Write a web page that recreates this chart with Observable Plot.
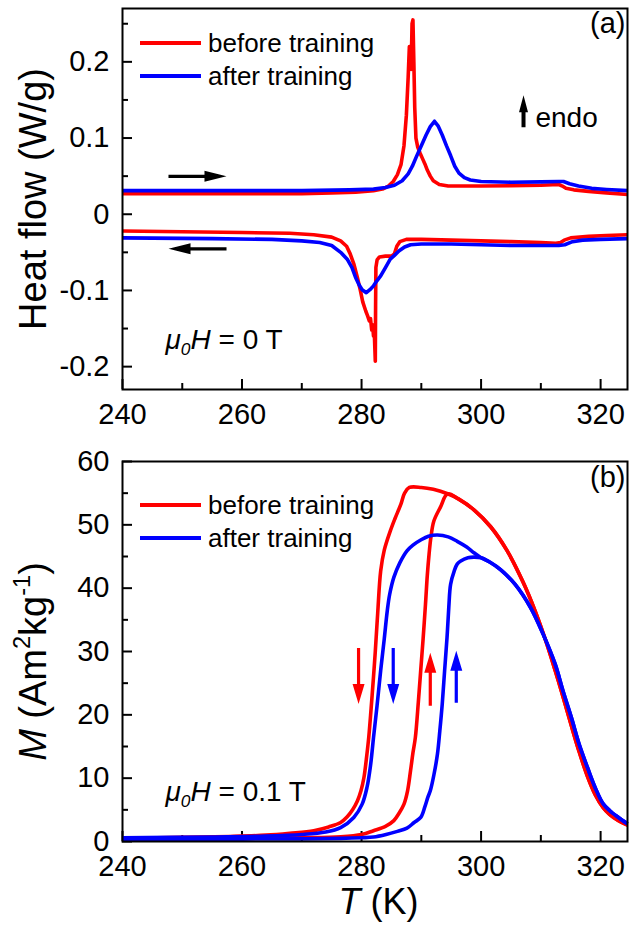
<!DOCTYPE html>
<html><head><meta charset="utf-8">
<script src="https://cdn.jsdelivr.net/npm/d3@7"></script>
<script src="https://cdn.jsdelivr.net/npm/@observablehq/plot@0.6"></script>
<style>
body{margin:0;background:#fff;}
#chart{width:630px;height:925px;position:relative;overflow:hidden;}
#chart svg{display:block;}
</style></head><body><div id="chart"></div>
<script>
// ---------- data ----------
const RED = "#ff0000", BLUE = "#0000ff";
const FONT = "'Liberation Sans', Arial, Helvetica, sans-serif";
const xDomain = [240, 324.5];
const xMajor = [240, 260, 280, 300, 320];
const xMinor = [250, 270, 290, 310];

// Panel (a): DSC heat flow [T (K), W/g]
const dscDomain = [-0.23, 0.27];
const dscMajor = [-0.2, -0.1, 0, 0.1, 0.2];
const dscMinor = [-0.15, -0.05, 0.05, 0.15, 0.25];
const dscRedHeat = [[240,0.027],[250,0.027],[260,0.027],[270,0.027],[275,0.028],[279,0.029],[282,0.031],[283.5,0.033],[284.5,0.037],[285.3,0.043],[286,0.052],[286.6,0.065],[287.1,0.09],[287.5,0.13],[287.8,0.18],[288.0,0.22],[288.15,0.215],[288.3,0.19],[288.45,0.25],[288.6,0.255],[288.75,0.2],[288.9,0.14],[289.1,0.1],[289.4,0.088],[289.8,0.08],[290.2,0.073],[290.6,0.066],[291.0,0.058],[291.5,0.05],[292,0.044],[293,0.039],[294.5,0.037],[300,0.037],[305,0.0375],[310,0.038],[313,0.039],[313.6,0.037],[314.2,0.034],[315.5,0.032],[318,0.03],[321,0.028],[324.5,0.026]];
const dscBlueHeat = [[240,0.031],[260,0.031],[270,0.031],[278,0.032],[282,0.033],[284,0.035],[285.5,0.038],[286.8,0.044],[287.8,0.053],[288.5,0.063],[289.2,0.076],[290,0.09],[290.8,0.104],[291.5,0.115],[292.2,0.122],[292.8,0.116],[293.5,0.104],[294.2,0.09],[294.9,0.077],[295.6,0.063],[296.3,0.054],[297.2,0.048],[298.2,0.045],[300,0.043],[305,0.042],[310,0.0425],[313,0.043],[313.8,0.043],[314.8,0.04],[316.3,0.037],[318.5,0.034],[321,0.0325],[324.5,0.031]];
const dscRedCool = [[240,-0.022],[250,-0.023],[260,-0.024],[268,-0.025],[272,-0.027],[275,-0.03],[276.5,-0.035],[277.5,-0.042],[278.1,-0.052],[278.7,-0.065],[279.3,-0.083],[279.8,-0.1],[280.2,-0.115],[280.7,-0.127],[281.0,-0.133],[281.3,-0.14],[281.5,-0.137],[281.7,-0.152],[281.85,-0.145],[282.0,-0.16],[282.1,-0.148],[282.3,-0.193],[282.35,-0.12],[282.4,-0.07],[282.6,-0.06],[283,-0.056],[284,-0.055],[285,-0.055],[285.5,-0.052],[285.9,-0.042],[286.4,-0.036],[287.5,-0.033],[290,-0.033],[295,-0.034],[300,-0.035],[305,-0.036],[310,-0.037],[312.5,-0.038],[313.3,-0.037],[313.9,-0.034],[315,-0.031],[318,-0.029],[321,-0.028],[324.5,-0.027]];
const dscBlueCool = [[240,-0.031],[255,-0.032],[265,-0.033],[270,-0.035],[273,-0.037],[275,-0.041],[276.5,-0.05],[277.6,-0.059],[278.4,-0.07],[279.0,-0.083],[279.6,-0.093],[280.1,-0.099],[280.8,-0.103],[281.4,-0.099],[282.0,-0.094],[282.6,-0.087],[283.2,-0.081],[284,-0.07],[284.8,-0.059],[285.5,-0.054],[286.3,-0.048],[287.2,-0.043],[288.2,-0.04],[290,-0.039],[295,-0.039],[300,-0.04],[305,-0.041],[310,-0.041],[313,-0.041],[314,-0.04],[315.3,-0.036],[317,-0.034],[320,-0.033],[324.5,-0.032]];

// Panel (b): magnetization [T (K), M (Am2/kg)]
const magDomain = [0, 60];
const magMajor = [0, 10, 20, 30, 40, 50, 60];
const magMinor = [5, 15, 25, 35, 45, 55];
const magRedTop = [[324.5,2.6],[323,3.3],[321.5,4.3],[320.4,5.4],[319.1,7.4],[317.8,10.3],[316.4,14.2],[315.1,18.3],[313.7,22.9],[312.4,27.0],[311,31.2],[309,36.5],[307,41.0],[304.3,46.0],[301.6,49.7],[298.9,52.3],[296.2,54.1],[294.4,54.9],[292,55.6],[290,55.9],[288,55.9]];
const magRedCool = [[287.2,55.0],[286.6,53.3],[285.6,51.0],[284.8,49.0],[283.8,46.0],[283.2,42.7],[282.7,36],[282.3,30],[282.0,26],[281.6,21],[281.2,16.4],[280.8,13],[280.4,10.1],[279.9,8],[279.3,6.4],[278.5,5.0],[277.6,3.9],[276.5,3.0],[274.5,2.3],[272,1.7],[268,1.3],[264,1.0],[258,0.8],[250,0.65],[240,0.55]];
const magRedHeat = [[240,0.45],[260,0.5],[270,0.6],[276.5,0.75],[280,1.1],[282,1.7],[284,2.4],[285.4,3.3],[286.3,4.5],[287.1,5.9],[287.7,8],[288.2,11.2],[288.6,14],[289.0,16.4],[289.5,22],[289.9,27.0],[290.3,32],[290.7,37.5],[291.0,42],[291.3,45.4],[291.6,48],[292.1,50.6],[293.2,52.8],[294.4,54.9]];
const magBlueTop = [[324.5,2.8],[323,3.8],[321.5,4.9],[320.4,6.0],[319.1,8.5],[317.8,11.7],[316.4,15.4],[315.1,19.6],[313.7,23.8],[312.4,28.0],[310.4,32.7],[308.3,36.9],[305.7,40.6],[303.3,42.9],[301.5,44.1],[300,44.8]];
const magBlueCool = [[298.8,45.6],[297.6,46.5],[296.0,47.4],[294.5,48.1],[292.7,48.4],[291.2,48.2],[289.9,47.6],[288.6,46.8],[287.6,45.9],[286.4,44.0],[285.4,41.7],[284.7,39],[284.3,36.4],[283.8,32],[283.2,27.0],[282.6,21.5],[282.0,16.4],[281.5,12],[280.9,8.5],[280.1,5.9],[278.7,3.8],[276.5,2.2],[274,1.5],[270,1.1],[264,0.85],[255,0.7],[240,0.6]];
const magBlueHeat = [[240,0.35],[260,0.38],[270,0.42],[276.5,0.5],[280,0.6],[282,0.7],[284.1,1.1],[286,1.6],[287.6,2.1],[288.8,3.0],[289.9,3.8],[290.6,5.5],[291.1,7],[291.5,8.0],[292.1,10.5],[292.7,13.8],[293.1,17.5],[293.5,21.7],[293.9,27],[294.3,32.2],[294.6,37],[294.9,40.6],[295.5,42.7],[296.0,43.8],[296.6,44.3],[297.8,44.8],[298.8,44.9],[300,44.8]];

// annotations (tip position in data units)
const dscArrows = [
  {T: 257.4, v: 0.0497, rot: 90, len: 58, head: 22, half: 5.5, shaft: 1.6, color: "black"},
  {T: 247.7, v: -0.0454, rot: -90, len: 58, head: 22, half: 5.5, shaft: 1.6, color: "black"},
  {T: 307.1, v: 0.156, rot: 0, len: 32, head: 17, half: 4.5, shaft: 2.0, color: "black"}
];
const magArrows = [
  {T: 279.5, v: 21.7, rot: 180, len: 56, head: 20, half: 6, shaft: 1.6, color: RED},
  {T: 285.3, v: 21.7, rot: 180, len: 56, head: 20, half: 6, shaft: 1.6, color: BLUE},
  {T: 291.5, v: 29.8, rot: 0, len: 53, head: 20, half: 6, shaft: 1.6, color: RED},
  {T: 295.85, v: 30.1, rot: 0, len: 52, head: 20, half: 6, shaft: 1.6, color: BLUE}
];
const legendLabels = ["before training", "after training"];
const legendColors = [RED, BLUE];

// ---------- helpers ----------
function arrowSymbol(len, head, half, shaft) {
  return {draw(ctx) {
    ctx.moveTo(0, 0);
    ctx.lineTo(half, head);
    ctx.lineTo(shaft, head);
    ctx.lineTo(shaft, len);
    ctx.lineTo(-shaft, len);
    ctx.lineTo(-shaft, head);
    ctx.lineTo(-half, head);
    ctx.closePath();
  }};
}
function arrowMarks(list) {
  return list.map(a => Plot.dot([a], {x: "T", y: "v", symbol: arrowSymbol(a.len, a.head, a.half, a.shaft), rotate: a.rot, fill: a.color, stroke: "none", r: 5}));
}
function axisMarks(yMajor, yMinor, yFmt) {
  return [
    Plot.axisX(xMajor, {tickSize: -10, tickPadding: 24, strokeWidth: 2, label: null, tickFormat: d => String(d)}),
    Plot.axisX(xMinor, {tickSize: -6, tickPadding: 0, strokeWidth: 2, label: null, tickFormat: () => ""}),
    Plot.axisY(yMajor, {tickSize: -10, tickPadding: 23, strokeWidth: 2, label: null, tickFormat: yFmt}),
    Plot.axisY(yMinor, {tickSize: -6, tickPadding: 0, strokeWidth: 2, label: null, tickFormat: () => ""})
  ];
}
function lineMark(data, color, curve = "linear") {
  return Plot.line(data, {x: d => d[0], y: d => d[1], stroke: color, strokeWidth: 3.6, strokeLinejoin: "round", strokeLinecap: "butt", curve});
}
function enrich(svg, plain, parts) {
  d3.select(svg).selectAll("text").filter(function() { return this.textContent === plain; }).each(function() {
    const el = d3.select(this);
    const fs = parseFloat(getComputedStyle(this).fontSize);
    el.text(null);
    let shift = 0;
    for (const p of parts) {
      const ts = el.append("tspan").text(p.t);
      const target = p.sup ? -0.42 * fs : p.sub ? 0.22 * fs : 0;
      if (target !== shift) { ts.attr("dy", target - shift); shift = target; }
      if (p.i) ts.attr("font-style", "italic");
      if (p.sup || p.sub) ts.attr("font-size", (0.62 * fs) + "px");
    }
  });
}
function addLegend(svg, y0, dy) {
  const g = d3.select(svg).append("g").attr("font-family", FONT).attr("font-size", "26px").attr("text-anchor", "start");
  legendLabels.forEach((lab, i) => {
    const y = y0 + i * dy;
    g.append("line").attr("x1", 140).attr("x2", 201).attr("y1", y).attr("y2", y)
      .attr("stroke", legendColors[i]).attr("stroke-width", 3.8);
    g.append("text").attr("x", 208).attr("y", y + 9).attr("fill", "black").text(lab);
  });
}
const baseStyle = {fontFamily: FONT, fontSize: "29px", color: "black", background: "white", overflow: "visible"};

// ---------- panel (a) ----------
const svgA = Plot.plot({
  width: 630, height: 441, marginLeft: 122, marginRight: 3, marginTop: 8, marginBottom: 52,
  style: baseStyle,
  x: {domain: xDomain},
  y: {domain: dscDomain},
  marks: [
    ...axisMarks(dscMajor, dscMinor, d => d === 0 ? "0" : d.toFixed(1)),
    lineMark(dscRedHeat, RED),
    lineMark(dscRedCool, RED),
    lineMark(dscBlueHeat, BLUE),
    lineMark(dscBlueCool, BLUE),
    ...arrowMarks(dscArrows),
    Plot.text(["endo"], {x: 309.1, y: 0.1257, textAnchor: "start", lineAnchor: "middle", fontSize: 28}),
    Plot.text(["mu0H = 0 T"], {x: 247.2, y: -0.165, textAnchor: "start", lineAnchor: "middle", fontSize: 28}),
    Plot.text(["(a)"], {frameAnchor: "top-right", dx: -2, dy: 15.5, textAnchor: "end", lineAnchor: "middle", fontSize: 29}),
    Plot.text(["Heat flow (W/g)"], {frameAnchor: "left", dx: -89, rotate: -90, textAnchor: "middle", lineAnchor: "middle", fontSize: 38}),
    Plot.frame({stroke: "black", strokeWidth: 2})
  ]
});

// ---------- panel (b) ----------
const svgB = Plot.plot({
  width: 630, height: 484, marginLeft: 122, marginRight: 3, marginTop: 20, marginBottom: 84,
  style: baseStyle,
  x: {domain: xDomain},
  y: {domain: magDomain},
  marks: [
    ...axisMarks(magMajor, magMinor, d => String(d)),
    lineMark(magRedHeat.concat(magRedTop.filter(d => d[0] > 294.4).reverse()), RED, "catmull-rom"),
    lineMark(magRedTop.concat(magRedCool), RED, "catmull-rom"),
    lineMark(magBlueHeat.concat(magBlueTop.filter(d => d[0] > 300).reverse()), BLUE, "catmull-rom"),
    lineMark(magBlueTop.concat(magBlueCool), BLUE, "catmull-rom"),
    ...arrowMarks(magArrows),
    Plot.text(["mu0H = 0.1 T"], {x: 247.2, y: 7.85, textAnchor: "start", lineAnchor: "middle", fontSize: 28}),
    Plot.text(["(b)"], {frameAnchor: "top-right", dx: -2, dy: 16.5, textAnchor: "end", lineAnchor: "middle", fontSize: 29}),
    Plot.text(["M (Am2kg-1)"], {frameAnchor: "left", dx: -89, dy: 10, rotate: -90, textAnchor: "middle", lineAnchor: "middle", fontSize: 38}),
    Plot.text(["T (K)"], {frameAnchor: "bottom", dx: 3.5, dy: 60.5, textAnchor: "middle", lineAnchor: "middle", fontSize: 36}),
    Plot.frame({stroke: "black", strokeWidth: 2})
  ]
});

const chart = document.getElementById("chart");
chart.append(svgA, svgB);
enrich(svgA, "mu0H = 0 T", [{t: "\u03bc", i: 1}, {t: "0", i: 1, sub: 1}, {t: "H", i: 1}, {t: " = 0 T"}]);
enrich(svgB, "mu0H = 0.1 T", [{t: "\u03bc", i: 1}, {t: "0", i: 1, sub: 1}, {t: "H", i: 1}, {t: " = 0.1 T"}]);
enrich(svgB, "M (Am2kg-1)", [{t: "M", i: 1}, {t: " (Am"}, {t: "2", sup: 1}, {t: "kg"}, {t: "-1", sup: 1}, {t: ")"}]);
enrich(svgB, "T (K)", [{t: "T", i: 1}, {t: " (K)"}]);
addLegend(svgA, 43, 33);
addLegend(svgB, 64, 33);
</script></body></html>
